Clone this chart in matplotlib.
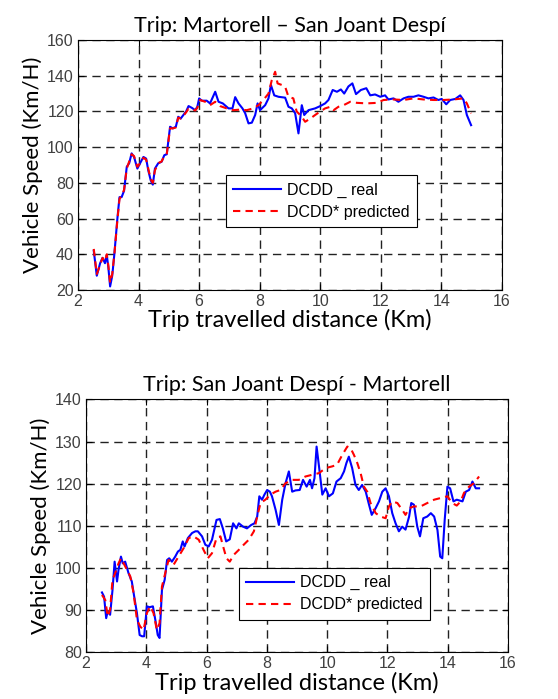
import matplotlib
matplotlib.use('Agg')
import matplotlib.pyplot as plt

# Trip 1: Martorell -> San Joant Despi
dist_real_1 = [2.52, 2.62, 2.73, 2.81, 2.89, 2.95, 3.00, 3.06, 3.13, 3.20, 3.30, 3.37, 3.44, 3.52,
               3.61, 3.69, 3.77, 3.85, 3.96, 4.05, 4.16, 4.25, 4.32, 4.40, 4.47, 4.54, 4.65, 4.76,
               4.85, 4.93, 5.04, 5.13, 5.23, 5.31, 5.39, 5.48, 5.57, 5.65, 5.76, 5.87, 5.94, 6.00,
               6.09, 6.25, 6.36, 6.53, 6.64, 6.78, 6.97, 7.10, 7.19, 7.30, 7.43, 7.52, 7.63, 7.74,
               7.85, 7.93, 8.01, 8.18, 8.29, 8.37, 8.48, 8.62, 8.84, 8.95, 9.06, 9.17, 9.28, 9.39,
               9.47, 9.61, 9.83, 10.00, 10.16, 10.27, 10.41, 10.55, 10.68, 10.79, 10.93, 11.06,
               11.18, 11.34, 11.52, 11.65, 11.81, 11.98, 12.14, 12.25, 12.42, 12.58, 12.75, 12.91,
               13.08, 13.24, 13.41, 13.57, 13.74, 13.90, 14.01, 14.16, 14.29, 14.46, 14.62, 14.73,
               14.84, 14.98]
speed_real_1 = [42, 28, 35, 38, 35, 39.5, 33, 22, 28, 40, 60, 72, 72, 75.5,
                89, 91, 96.5, 94.5, 88, 91, 94.5, 93.6, 87, 81.5, 79, 88, 91, 91.8,
                95.5, 96, 111.4, 110.5, 111.4, 117, 116, 118, 120, 123, 122, 120.7, 122.6, 127.3,
                126, 126, 124.5, 131, 125.4, 124.5, 121.7, 121.7, 128, 124.5, 121.7, 119, 113.3, 113.7,
                118, 124.5, 120.7, 123.5, 127.3, 134.8, 129, 128.2, 127.7, 122.6, 121.7, 119, 107.7, 123.5,
                118, 120.7, 121.7, 123, 124.5, 126.4, 132, 131, 132.3, 130, 134, 135.7,
                129.7, 132, 133, 129, 129.5, 128.2, 129, 126.7, 127.3, 125.4, 127.3, 128.2,
                128.2, 129, 128.2, 127.3, 127.8, 126.4, 127, 124, 126.4, 127, 129, 126.4,
                118, 112.3]

dist_pred_1 = [2.52, 2.62, 2.73, 2.81, 2.89, 2.95, 3.00, 3.06, 3.13, 3.20, 3.30, 3.37, 3.44, 3.52,
               3.61, 3.69, 3.77, 3.85, 3.96, 4.05, 4.16, 4.25, 4.32, 4.40, 4.47, 4.54, 4.65, 4.76,
               4.85, 4.93, 5.04, 5.13, 5.23, 5.31, 5.39, 5.48, 5.57, 5.65, 5.76, 5.87, 5.94,
               6.03, 6.20, 6.36, 6.53, 6.69, 6.91, 7.13, 7.35, 7.57, 7.79, 7.96, 8.12, 8.29, 8.40,
               8.51, 8.59, 8.73, 8.84, 8.95, 9.11, 9.22, 9.39, 9.50, 9.67, 9.83, 10.00, 10.16,
               10.33, 10.44, 10.60, 10.77, 10.99, 11.21, 11.54, 11.87, 12.09, 12.42, 12.75, 13.08,
               13.41, 13.74, 14.07, 14.40, 14.73, 14.84, 14.98]
speed_pred_1 = [43, 29, 34, 38, 36, 40, 34, 24, 29, 40, 59, 71, 73, 76,
                88, 92, 96, 95, 89, 91, 94, 93, 88, 82, 80, 87, 91, 92,
                95, 96, 110.5, 110.5, 111, 116.5, 116, 117.5, 119.5, 121.5, 121.5, 120.5, 122,
                126.4, 125.4, 123.5, 125.4, 123, 121.7, 120.7, 121, 120.7, 121.7, 123.5, 126.4, 130, 137.6,
                142.2, 135.7, 134.8, 133.8, 128.2, 127.3, 120, 117, 114.2, 116, 118, 120, 121.7,
                122.6, 120.7, 122.6, 123.5, 125.4, 124.8, 124.5, 124.8, 126.4, 126.7, 126.4, 127.3,
                126.7, 126.4, 126.4, 126.7, 127.3, 124.5, 118.9]

# Trip 2: San Joant Despi -> Martorell
dist_real_2 = [2.53, 2.60, 2.67, 2.72, 2.80, 2.88, 2.95, 3.03, 3.08, 3.16, 3.22, 3.30, 3.41, 3.52,
               3.60, 3.69, 3.78, 3.86, 3.93, 4.02, 4.11, 4.22, 4.30, 4.38, 4.44, 4.52, 4.61, 4.69,
               4.76, 4.85, 4.96, 5.05, 5.13, 5.21, 5.27, 5.38, 5.52, 5.63, 5.71, 5.85, 5.96, 6.07,
               6.18, 6.33, 6.44, 6.54, 6.65, 6.77, 6.88, 6.99, 7.07, 7.21, 7.34, 7.48, 7.59, 7.68,
               7.75, 7.84, 7.92, 8.01, 8.10, 8.17, 8.29, 8.40, 8.51, 8.62, 8.73, 8.84, 8.95, 9.09,
               9.20, 9.32, 9.43, 9.50, 9.58, 9.65, 9.73, 9.84, 9.95, 10.06, 10.19, 10.31, 10.45,
               10.56, 10.64, 10.72, 10.83, 10.94, 11.05, 11.16, 11.28, 11.39, 11.48, 11.61, 11.72,
               11.83, 11.94, 12.05, 12.16, 12.27, 12.38, 12.49, 12.60, 12.72, 12.79, 12.88, 12.99,
               13.08, 13.19, 13.32, 13.44, 13.55, 13.66, 13.75, 13.82, 13.90, 13.99, 14.08, 14.19,
               14.30, 14.49, 14.60, 14.71, 14.82, 14.93, 15.04]
speed_real_2 = [94.2, 93.2, 88.1, 89.7, 88.9, 94.8, 101.5, 96.8, 99.6, 102.7, 101.1, 101.5, 98.8, 96.8,
                93.2, 89.3, 84.1, 83.8, 83.8, 90.9, 90.7, 90.9, 87.7, 84.1, 83.4, 94.8, 97.2, 101.9,
                102.3, 101.5, 102.7, 103.9, 104.3, 106.3, 105.1, 107.1, 108.3, 108.7, 108.7, 107.5, 105.5, 105.1,
                106.7, 111.4, 111.6, 109.4, 106.3, 106.8, 110.6, 109.4, 110.6, 109.8, 109.4, 110.2, 110.6, 112.2,
                117, 116.2, 117.4, 118.5, 118.1, 117, 113.8, 110.2, 116.2, 120.1, 122.9, 118.1, 118.4, 118.5,
                120.9, 119.3, 120.9, 118.9, 121.3, 128.8, 124.1, 117.4, 118.9, 117, 117.7, 120.5, 121.3,
                122.9, 124.9, 126.4, 123.7, 119.7, 118.5, 119.7, 118.1, 115, 112.6, 114.2, 115.8,
                118.1, 118.9, 117, 113, 110.6, 108.7, 109.8, 109.1, 112.2, 115.4, 115, 109.8,
                107.5, 111.8, 112.2, 113, 112.2, 109, 102.7, 102.3, 111.4, 119.3, 118.9, 115.8,
                116.2, 115.8, 118.1, 118.5, 120.5, 118.9, 118.9]

dist_pred_2 = [2.53, 2.64, 2.72, 2.80, 2.88, 2.97, 3.08, 3.16, 3.30, 3.47, 3.58, 3.69, 3.80, 3.91,
               4.02, 4.13, 4.24, 4.35, 4.44, 4.52, 4.63, 4.74, 4.91, 5.07, 5.24, 5.41, 5.57, 5.74,
               5.90, 6.04, 6.18, 6.33, 6.46, 6.55, 6.66, 6.77, 6.90, 7.07, 7.23, 7.40, 7.57, 7.68,
               7.79, 7.95, 8.12, 8.29, 8.45, 8.62, 8.84, 9.06, 9.28, 9.50, 9.73, 9.95, 10.17, 10.33,
               10.50, 10.67, 10.78, 10.89, 11.00, 11.11, 11.22, 11.33, 11.44, 11.61, 11.77, 11.94,
               12.05, 12.16, 12.33, 12.49, 12.60, 12.72, 12.88, 13.10, 13.32, 13.55, 13.77, 13.99,
               14.15, 14.30, 14.43, 14.54, 14.71, 14.87, 15.04]
speed_pred_2 = [93.6, 92.4, 88.5, 90.1, 97.2, 98.8, 101.1, 102.3, 100.4, 98, 94, 87.7, 86.1, 85.3,
                89.3, 90.9, 89.3, 85.3, 86.9, 95.6, 98.8, 101.9, 100.8, 102.7, 104.7, 107.1, 107.5, 106.7,
                104.3, 102.3, 103.5, 107.1, 107.5, 105.1, 102.3, 101.5, 103.1, 104.3, 105.5, 106.7, 108.7, 112.2,
                115.4, 116.2, 117.4, 118.1, 118.5, 120.1, 120.9, 120.9, 121.7, 122.1, 122.5, 123.7, 124.1, 124.5,
                126.8, 128.8, 128.4, 126.8, 124.9, 122.5, 119.3, 118.1, 115.4, 113, 112.2, 111.8,
                114.6, 115.8, 115.4, 113.8, 112.6, 114.2, 114.6, 114.6, 115.4, 116.2, 116.6, 117,
                115.4, 114.8, 115.8, 117.8, 119.3, 120.1, 121.7]

titles = ['Trip: Martorell \u2013 San Joant Desp\u00ed', 'Trip: San Joant Desp\u00ed - Martorell']
x_label = 'Trip travelled distance (Km)'
y_label = 'Vehicle Speed (Km/H)'
legend_labels = ['DCDD _ real', 'DCDD* predicted']

text_font = 'Lato'
tick_font = 'Liberation Sans'


def draw_trip(ax, d_real, v_real, d_pred, v_pred, title, ylim, yticks, leg_anchor):
    ax.plot(d_real, v_real, color='#0000ff', lw=1.5, label=legend_labels[0])
    ax.plot(d_pred, v_pred, color='#ff0000', lw=1.5, ls=(0, (3.5, 2.5)), label=legend_labels[1])
    ax.set_xlim(2, 16)
    ax.set_ylim(*ylim)
    ax.set_xticks(range(2, 17, 2))
    ax.set_yticks(yticks)
    ax.grid(True, color='#222222', ls=(0, (6, 4)), lw=1.0)
    ax.tick_params(direction='in', top=True, right=True, length=4, width=0.8,
                   labelsize=11.5, labelcolor='#404040', pad=3)
    for lab in ax.get_xticklabels() + ax.get_yticklabels():
        lab.set_fontfamily(tick_font)
    for s in ax.spines.values():
        s.set_linewidth(0.8)
    ax.set_title(title, fontsize=15.5, family=text_font, pad=6)
    ax.set_xlabel(x_label, fontsize=17, family=text_font, labelpad=0)
    ax.set_ylabel(y_label, fontsize=16, family=text_font, labelpad=3)
    leg = ax.legend(loc='upper left', bbox_to_anchor=leg_anchor, fancybox=False,
                    edgecolor='black', framealpha=1, handlelength=3.0,
                    prop={'family': tick_font, 'size': 11.5}, borderpad=0.45,
                    labelspacing=0.45, handletextpad=0.4)
    leg.get_frame().set_linewidth(0.8)


fig = plt.figure(figsize=(5.58, 6.99), dpi=100)
ax1 = fig.add_axes([0.1398, 0.5851, 0.7598, 0.3577])
ax2 = fig.add_axes([0.1541, 0.0668, 0.7563, 0.3619])

draw_trip(ax1, dist_real_1, speed_real_1, dist_pred_1, speed_pred_1, titles[0],
          (20, 160), range(20, 161, 20), (0.33, 0.49))
draw_trip(ax2, dist_real_2, speed_real_2, dist_pred_2, speed_pred_2, titles[1],
          (80, 140), range(80, 141, 10), (0.343, 0.365))

fig.savefig('out.png', dpi=100)
plt.close()
